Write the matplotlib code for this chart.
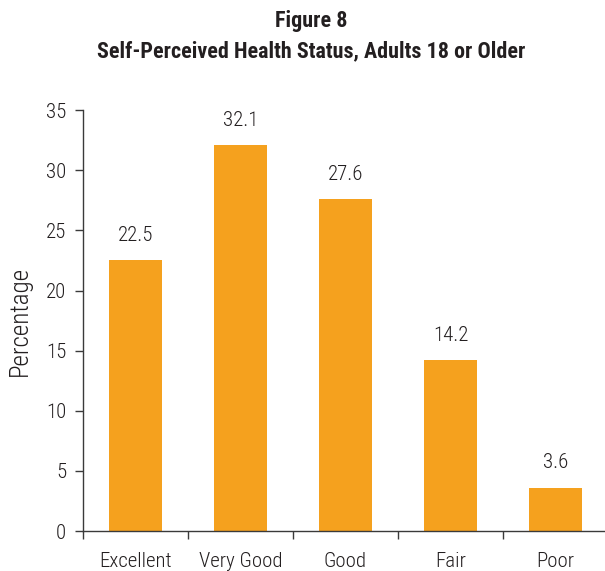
import matplotlib
matplotlib.use("Agg")
import matplotlib.pyplot as plt
import numpy as np

categories = ["Excellent", "Very Good", "Good", "Fair", "Poor"]
percentages = [22.5, 32.1, 27.6, 14.2, 3.6]
y_ticks = [0, 5, 10, 15, 20, 25, 30, 35]

BAR_COLOR = "#F5A11E"
TEXT_COLOR = "#231F20"
AXIS_COLOR = "#3A3A3A"
FONT = ["Roboto Condensed", "Liberation Sans Narrow", "Roboto", "DejaVu Sans"]

fig = plt.figure(figsize=(6.05, 5.71), dpi=100)
ax = fig.add_axes([0.137, 0.070, 0.868, 0.737])

x = np.arange(len(categories))
bars = ax.bar(x, percentages, width=0.5, color=BAR_COLOR, zorder=2)

for rect, value in zip(bars, percentages):
    ax.annotate(f"{value:.1f}", (rect.get_x() + rect.get_width() / 2, rect.get_height()),
                xytext=(0, 11), textcoords="offset points", ha="center", va="bottom",
                fontsize=15, color=TEXT_COLOR, family=FONT, fontweight="light")

ax.set_xlim(-0.5, len(categories) - 0.5)
ax.set_ylim(0, 35)
ax.set_yticks(y_ticks)
ax.set_yticklabels([str(t) for t in y_ticks], family=FONT, fontsize=15,
                   color=TEXT_COLOR, fontweight="light")

# category labels centred under bars, tick marks on the boundaries
ax.set_xticks(np.arange(-0.5, len(categories), 1.0))
ax.set_xticklabels([])
ax.set_xticks(x, minor=True)
ax.set_xticklabels(categories, minor=True, family=FONT, fontsize=15,
                   color=TEXT_COLOR, fontweight="light")
ax.tick_params(axis="x", which="minor", length=0, pad=15)
ax.tick_params(axis="x", which="major", length=6, width=1, color=AXIS_COLOR)
ax.tick_params(axis="y", length=6, width=1, color=AXIS_COLOR, pad=6)

for side in ("top", "right"):
    ax.spines[side].set_visible(False)
for side in ("left", "bottom"):
    ax.spines[side].set_color(AXIS_COLOR)
    ax.spines[side].set_linewidth(1)

ax.set_ylabel("Percentage", family=FONT, fontsize=18, color=TEXT_COLOR,
              labelpad=10, fontweight="light")

fig.text(0.515, 0.964, "Figure 8", ha="center", va="center", fontsize=15.8,
         fontweight="bold", family=FONT, color=TEXT_COLOR)
fig.text(0.515, 0.911, "Self-Perceived Health Status, Adults 18 or Older", ha="center",
         va="center", fontsize=15.8, fontweight="bold", family=FONT, color=TEXT_COLOR)

fig.savefig("out.png", dpi=100)
